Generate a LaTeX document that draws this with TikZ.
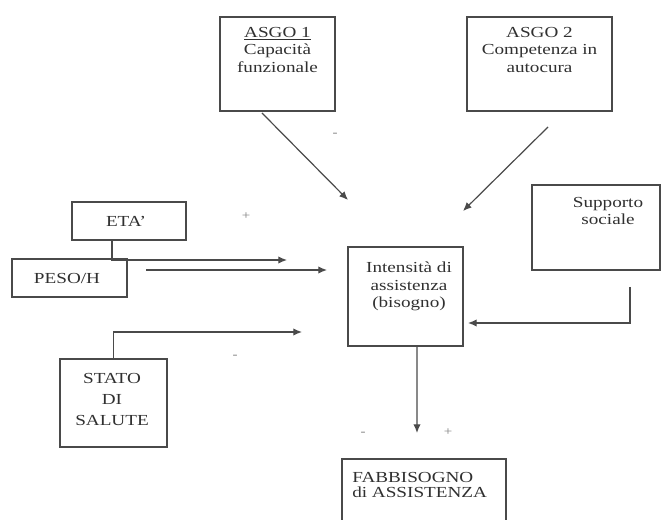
\documentclass[tikz,border=0pt]{standalone}
\usepackage{fontspec}
\setmainfont{Liberation Serif}[FakeStretch=1.25]
\usetikzlibrary{arrows.meta}
\definecolor{linec}{HTML}{4A4A4A}
\definecolor{txtc}{HTML}{303030}
\begin{document}
\begin{tikzpicture}[x=0.75pt,y=-0.75pt,
  box/.style={draw=linec, line width=0.9pt, inner sep=0pt, fill=none},
  txt/.style={text=txtc, font=\fontsize{11.5}{13}\selectfont, align=center, inner sep=0pt},
  sgn/.style={text=gray, font=\fontsize{9}{10}\selectfont, inner sep=0pt},
  arr/.style={draw=linec, line width=0.9pt, -{Latex[length=6.5pt,width=5.5pt]}},
  ln/.style={draw=linec, line width=0.9pt}]
\useasboundingbox (0,0) rectangle (662,520);
% boxes
\node[box, minimum width=86.25pt, minimum height=70.5pt] (a1) at (277.5,64) {};
\node[box, minimum width=108.75pt, minimum height=70.5pt] (a2) at (539.5,64) {};
\node[box, minimum width=96pt, minimum height=63.75pt] (sup) at (596,227.5) {};
\node[box, minimum width=86.25pt, minimum height=74.25pt] (int) at (405.5,296.5) {};
\begin{scope}
\clip (0,0) rectangle (662,520);
\node[box, minimum width=123pt, minimum height=54pt] (fab) at (424,495) {};
\end{scope}
\node[box, minimum width=85.5pt, minimum height=28.5pt] (eta) at (129,221) {};
\node[box, minimum width=86.25pt, minimum height=28.5pt] (peso) at (69.5,278) {};
\node[box, minimum width=80.25pt, minimum height=66pt] (stato) at (113.5,403) {};
% texts
\node[txt, anchor=north] (a1t) at (277.5,27) {\underline{ASGO 1}\\Capacità\\funzionale};
\node[txt, anchor=north] (a2t) at (539.5,27) {ASGO 2\\Competenza in\\autocura};
\node[txt, anchor=north] (supt) at (608,197) {Supporto\\sociale};
\node[txt, anchor=north] (intt) at (409,262) {Intensità di\\assistenza\\(bisogno)};
\node[txt] (etat) at (126,221) {ETA’};
\node[txt] (pesot) at (67,279) {PESO/H};
\node[txt, anchor=north, font=\fontsize{11.5}{15.8}\selectfont] (statot) at (112,373) {STATO\\DI\\SALUTE};
\node[txt, anchor=north west, align=left, font=\fontsize{11.5}{11.5}\selectfont] (fabt) at (352,472) {FABBISOGNO\\di ASSISTENZA};
% signs
\node[sgn] (s1) at (335,135) {-};
\node[sgn] (s2) at (246,216) {+};
\node[sgn] (s3) at (235,357) {-};
\node[sgn] (s4) at (363,434) {-};
\node[sgn] (s5) at (448,432) {+};
% connector ends
\coordinate (a1s) at (262,113);
\coordinate (a1e) at (348,200);
\coordinate (a2s) at (548,127);
\coordinate (a2e) at (463,211);
\coordinate (etae) at (287,260);
\coordinate (pesos) at (146,270);
\coordinate (pesoe) at (327,270);
\coordinate (statoe) at (302,332);
\coordinate (sups) at (630,287);
\coordinate (supe) at (468,323);
\coordinate (inte) at (417,433);
% connectors
\draw[arr] (a1s) -- (a1e);
\draw[arr] (a2s) -- (a2e);
\draw[arr] ([xshift=-12.75pt]eta.south) |- (etae);
\draw[arr] (pesos) -- (pesoe);
\draw[arr] (stato.north) |- (statoe);
\draw[arr] (sups) |- (supe);
\draw[arr] ([xshift=8.6pt]int.south) -- (inte);
\end{tikzpicture}
\end{document}
